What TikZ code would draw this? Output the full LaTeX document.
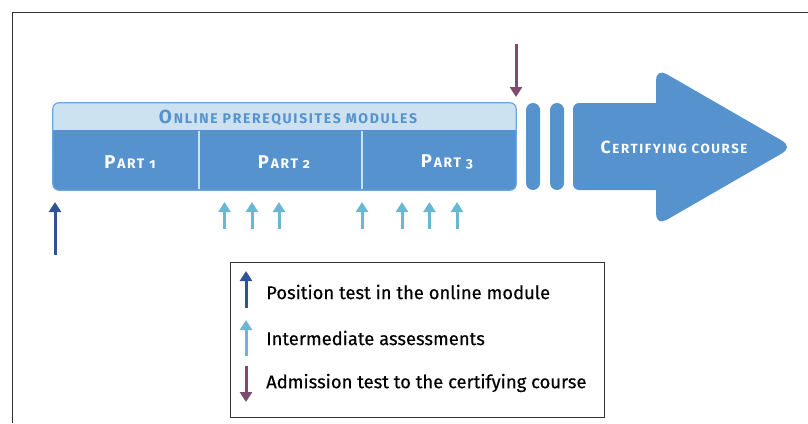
\documentclass[tikz,border=0pt]{standalone}
\usepackage{fontspec}
\setmainfont{Fira Sans}
\newfontfamily\capsfont[LetterSpace=12,Numbers=OldStyle]{Fira Sans}
\newfontfamily\legendfont[FakeBold=0.4]{Fira Sans}
\usetikzlibrary{arrows.meta}

\definecolor{mainblue}{HTML}{5592CE}
\definecolor{bandblue}{HTML}{CDE2F0}
\definecolor{edgeblue}{HTML}{6FA6DA}
\definecolor{posblue}{HTML}{2F5496}
\definecolor{midblue}{HTML}{6AB7D3}
\definecolor{admpurple}{HTML}{7E4B6E}
\definecolor{framegray}{HTML}{333333}

% small caps built from two sizes of capitals
\newcommand{\twocaps}[4]{{\fontsize{#1}{#1}\selectfont #3}\kern1.8pt{\fontsize{#2}{#2}\selectfont #4}}

\tikzset{
  frameline/.style={draw=framegray, line width=1pt},
  bluebar/.style={fill=mainblue, draw=none, rounded corners=7pt, minimum width=14pt, minimum height=87pt, inner sep=0pt},
  divider/.style={draw=bandblue, line width=1.3pt},
  hdrtext/.style={text=mainblue, font=\capsfont\bfseries, inner sep=0pt},
  parttext/.style={text=white, font=\capsfont\bfseries, inner sep=0pt},
  tick/.style={line width=3pt, -{Triangle[width=12pt,length=10pt]}},
  posarrow/.style={tick, draw=posblue},
  midarrow/.style={tick, draw=midblue},
  admarrow/.style={tick, draw=admpurple},
  legtext/.style={anchor=west, inner sep=0pt, font=\legendfont\fontsize{18.4pt}{18.4pt}\selectfont, text=black},
}

\begin{document}
\begin{tikzpicture}[x=1pt, y=-1pt]
\useasboundingbox (0,0) rectangle (808,423);

% outer frame (left and top edges)
\draw[frameline] (12,423) -- (12,12) -- (808,12);

% online modules block
\node[fill=mainblue, draw=none, rounded corners=6pt, minimum width=463pt, minimum height=87pt, inner sep=0pt] (mods) at (284.5,146.5) {};
\begin{scope}
  \clip[rounded corners=6pt] (mods.north west) rectangle (mods.south east);
  \fill[bandblue] (mods.north west) rectangle (516,130);
\end{scope}
\draw[edgeblue, line width=1.2pt, rounded corners=6pt] (mods.north west) rectangle (mods.south east);
\draw[divider] (199,130.6) -- (199,189.4);
\draw[divider] (362,130.6) -- (362,189.4);

\node[hdrtext] (hdr) at (288,117.5) {\twocaps{19pt}{14pt}{O}{NLINE PREREQUISITES MODULES}};
\node[parttext] (part1) at (130,162) {\twocaps{18.5pt}{13.8pt}{P}{ART 1}};
\node[parttext] (part2) at (284,162) {\twocaps{18.5pt}{13.8pt}{P}{ART 2}};
\node[parttext] (part3) at (447,162) {\twocaps{18.5pt}{13.8pt}{P}{ART 3}};

% gap bars
\node[bluebar] (bar1) at (533,146.5) {};
\node[bluebar] (bar2) at (557,146.5) {};

% certifying course arrow
\fill[mainblue, rounded corners=6pt] (573,103) rectangle (668,190);
\fill[mainblue, rounded corners=12pt] (656,68) -- (793,147) -- (656,226) -- cycle;
\node[parttext] (cert) at (674,147) {\twocaps{17.6pt}{13.3pt}{C}{ERTIFYING COURSE}};

% admission test arrow
\coordinate (admtop) at (516,44);
\coordinate (admtip) at (516,97);
\draw[admarrow] (admtop) -- (admtip);

% position test arrow
\coordinate (posfoot) at (55,255);
\coordinate (postip) at (55,202);
\draw[posarrow] (posfoot) -- (postip);

% intermediate assessment arrows
\foreach \i/\x in {1/224.5,2/252,3/279,4/362,5/402,6/429.5,7/457}{
  \coordinate (midfoot\i) at (\x,229);
  \coordinate (midtip\i) at (\x,202);
  \draw[midarrow] (midfoot\i) -- (midtip\i);
}

% legend
\node[draw=framegray, line width=1pt, minimum width=374pt, minimum height=155pt, inner sep=0pt] (legend) at (417,339.5) {};
\coordinate (lgposfoot) at (246,308);
\coordinate (lgpostip) at (246,271);
\draw[posarrow] (lgposfoot) -- (lgpostip);
\coordinate (lgmidfoot) at (246,356);
\coordinate (lgmidtip) at (246,320);
\draw[midarrow] (lgmidfoot) -- (lgmidtip);
\coordinate (lgadmtop) at (246,366);
\coordinate (lgadmtip) at (246,402);
\draw[admarrow] (lgadmtop) -- (lgadmtip);

\node[legtext] (lgpos) at (266,292) {Position test in the online module};
\node[legtext] (lgmid) at (266,338) {Intermediate assessments};
\node[legtext] (lgadm) at (266,383) {Admission test to the certifying course};
\end{tikzpicture}
\end{document}
